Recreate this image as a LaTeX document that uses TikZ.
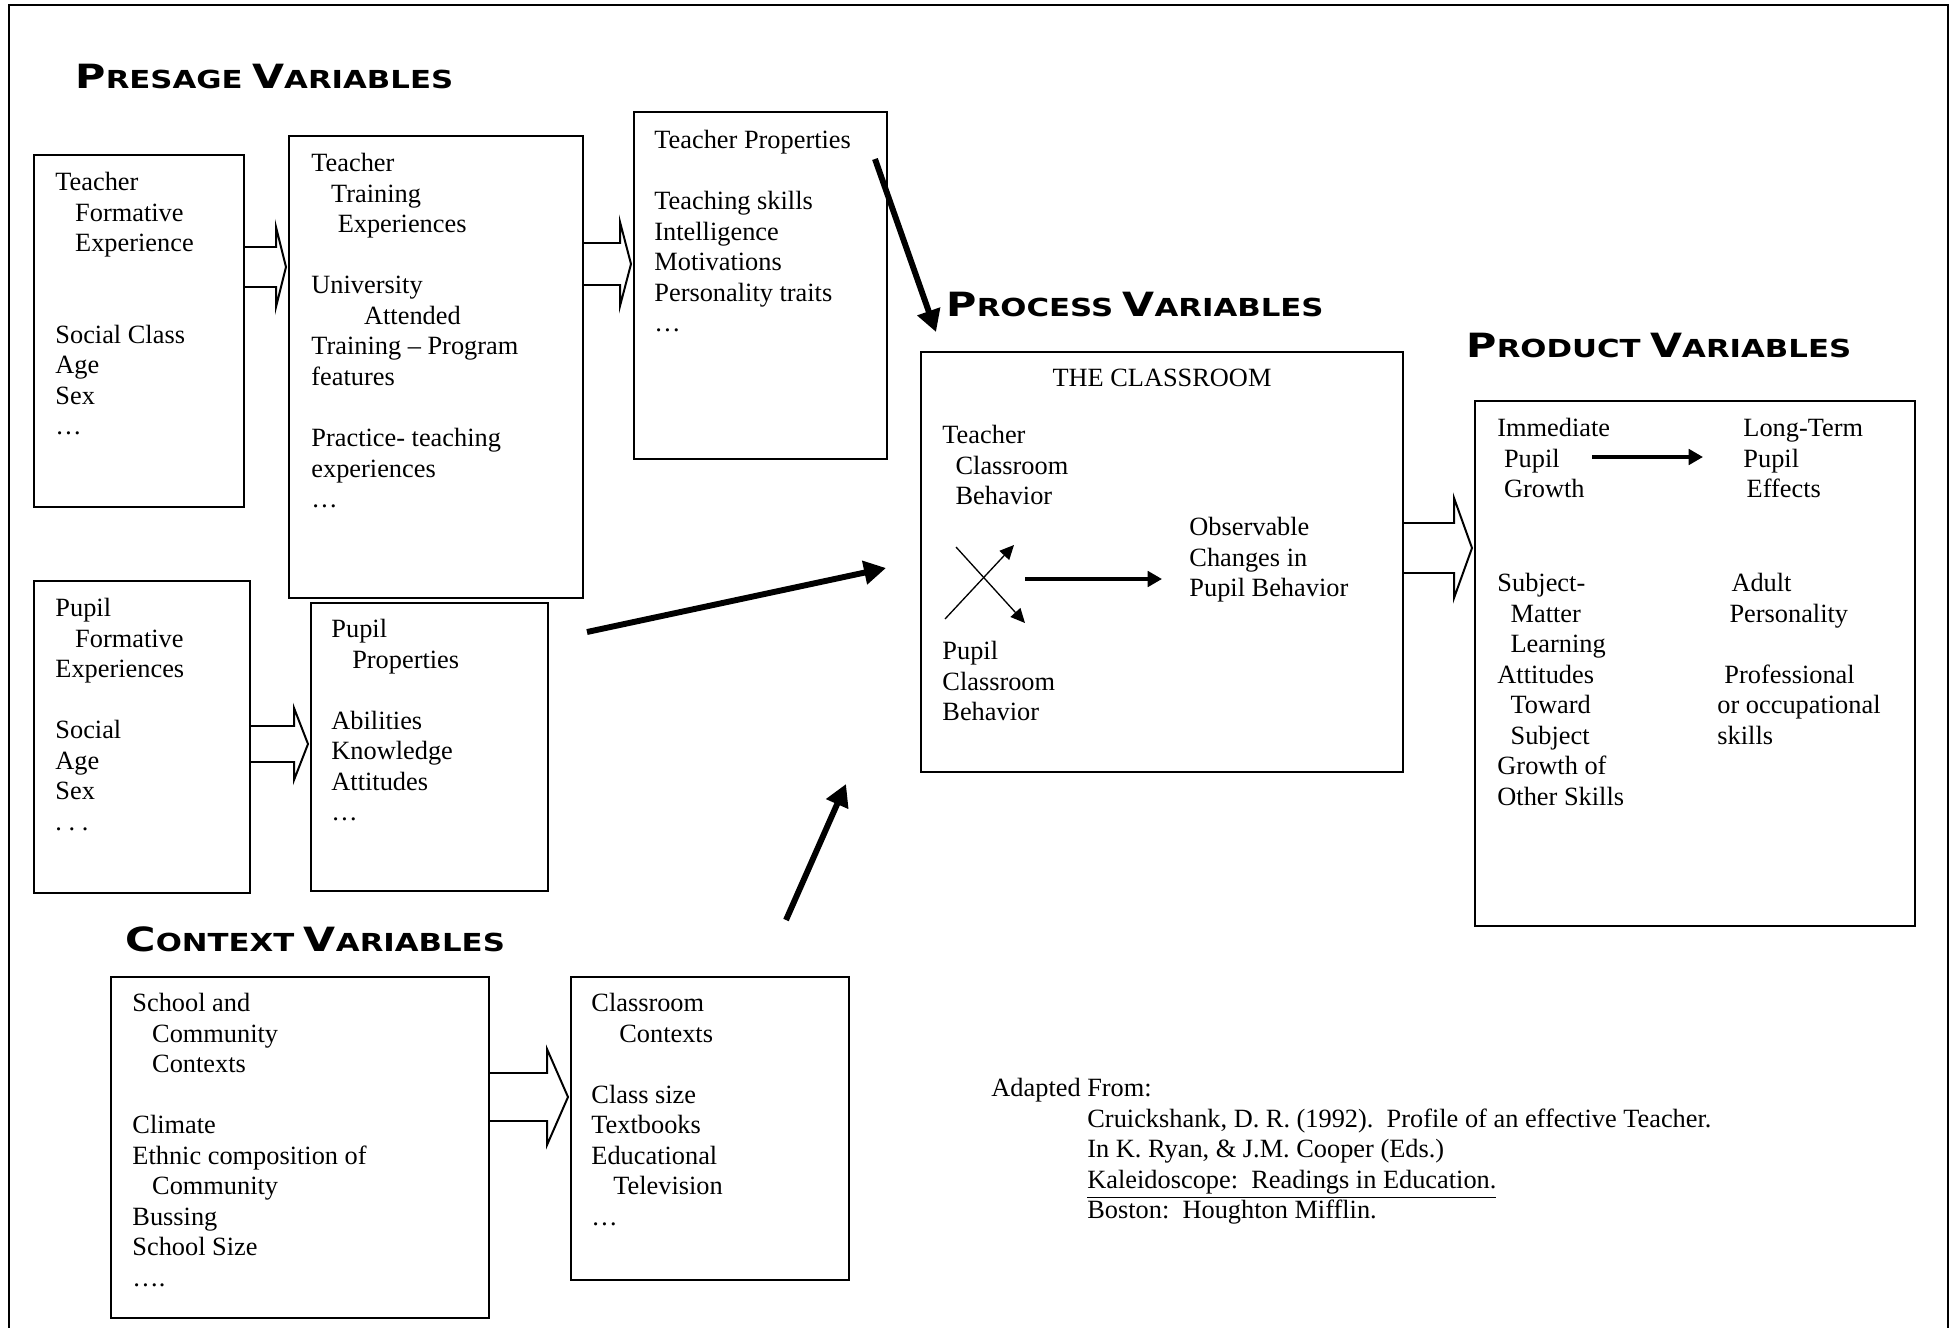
\documentclass[tikz,border=0pt]{standalone}
\usepackage{graphicx}
\usepackage{fontspec}
\setmainfont{Liberation Serif}
\newfontfamily\headfont{DejaVu Sans}
\usetikzlibrary{arrows.meta,calc,fit}

\newcommand{\capword}[2]{{\fontsize{15.2}{16}\selectfont #1}{\fontsize{11.3}{12}\selectfont #2}}
\newcommand{\vartitle}[2]{\scalebox{1.24}[1]{\headfont\bfseries\capword{#1}{#2}\ \capword{V}{ARIABLES}}}
\newcommand{\openarrow}[5]{%
  \coordinate (tip) at ($(#2.west |- 0,#3)+(-2,0)$);
  \draw[hollow] (#1.east |- 0,#3-#4) -| ($(tip)+(-#5,-2*#4)$) -- (tip)
    -- ($(tip)+(-#5,2*#4)$) |- (#1.east |- 0,#3+#4);
}

\tikzset{
  box/.style={draw, line width=0.9pt, inner sep=0pt},
  txt/.style={anchor=north west, inner sep=0pt, align=left, font=\fontsize{12}{13.9}\selectfont},
  title/.style={anchor=base west, inner sep=0pt},
  hollow/.style={draw, line width=0.9pt, line join=miter},
  bigarrow/.style={line width=2.7pt, -{Triangle[length=10pt,width=10.5pt]}},
  thinarrow/.style={line width=0.6pt, -{Triangle[length=6.5pt,width=6pt]}},
  midarrow/.style={line width=1.6pt, -{Triangle[length=6.5pt,width=7pt]}}
}

\begin{document}
\begin{tikzpicture}[x=0.016cm, y=-0.016cm]
\useasboundingbox (0,0) rectangle (1952,1328);
\draw[line width=0.9pt] (9,1328) -- (9,5) -- (1948,5) -- (1948,1328);

\node[title] (presage) at (75,88) {\vartitle{P}{RESAGE}};
\node[title] (process) at (946,316) {\vartitle{P}{ROCESS}};
\node[title] (product) at (1466,357) {\vartitle{P}{RODUCT}};
\node[title] (context) at (125,951) {\vartitle{C}{ONTEXT}};

\node[box, fit={(34,155) (244,507)}] (tfe) {};
\node[box, fit={(289,136) (583,598)}] (tte) {};
\node[box, fit={(634,112) (887,459)}] (tp) {};
\node[box, fit={(34,581) (250,893)}] (pfe) {};
\node[box, fit={(311,603) (548,891)}] (pp) {};
\node[box, fit={(921,352) (1403,772)}] (proc) {};
\node[box, fit={(1475,401) (1915,926)}] (prod) {};
\node[box, fit={(111,977) (489,1318)}] (scc) {};
\node[box, fit={(571,977) (849,1280)}] (cc) {};

\node[txt] (tfetext) at (55,169) {\strut Teacher\\ \hspace*{9pt}Formative\\ \hspace*{9pt}Experience\\[27.8pt]Social Class\\ Age\\ Sex\\ …};
\node[txt] (ttetext) at (311,150) {\strut Teacher\\ \hspace*{9pt}Training\\ \hspace*{12pt}Experiences\\[13.9pt]University\\ \hspace*{24pt}Attended\\ Training – Program\\ features\\[13.9pt]Practice- teaching\\ experiences\\ …};
\node[txt] (tptext) at (654,127) {\strut Teacher Properties\\[13.9pt]Teaching skills\\ Intelligence\\ Motivations\\ Personality traits\\ …};
\node[txt] (pfetext) at (55,595) {\strut Pupil\\ \hspace*{9pt}Formative\\ Experiences\\[13.9pt]Social\\ Age\\ Sex\\ .\ .\ .};
\node[txt] (pptext) at (331,616) {\strut Pupil\\ \hspace*{9.5pt}Properties\\[13.9pt]Abilities\\ Knowledge\\ Attitudes\\ …};
\node[txt] (scctext) at (132,990) {\strut School and\\ \hspace*{9pt}Community\\ \hspace*{9pt}Contexts\\[13.9pt]Climate\\ Ethnic composition of\\ \hspace*{9pt}Community\\ Bussing\\ School Size\\ ….};
\node[txt] (cctext) at (591,990) {\strut Classroom\\ \hspace*{12.7pt}Contexts\\[13.9pt]Class size\\ Textbooks\\ Educational\\ \hspace*{10pt}Television\\ …};

\node[inner sep=0pt, font=\fontsize{12}{13.9}\selectfont] (classtitle) at ($(proc.north)+(0,27)$) {THE CLASSROOM};
\node[txt] (tcb) at (942,422) {\strut Teacher\\ \hspace*{6pt}Classroom\\ \hspace*{6pt}Behavior};
\node[txt] (obs) at (1189,514) {\strut Observable\\ Changes in\\ Pupil Behavior};
\node[txt] (pcb) at (942,638) {\strut Pupil\\ Classroom\\ Behavior};
\draw[thinarrow] (956,547) -- (1025,623);
\draw[thinarrow] (945,619) -- (1014,545);
\draw[midarrow] (1025,579) -- ($(obs.west |- 0,579)+(-27,0)$);

\node[txt] (imm) at (1497,415) {\strut Immediate\\ \hspace*{3pt}Pupil\\ \hspace*{3pt}Growth};
\node[txt] (ltm) at (1743,415) {\strut Long-Term\\ Pupil\\ \hspace*{1.5pt}Effects};
\node[txt] (subj) at (1497,570) {\strut Subject-\\ \hspace*{6pt}Matter\\ \hspace*{6pt}Learning\\ Attitudes\\ \hspace*{6pt}Toward\\ \hspace*{6pt}Subject\\ Growth of\\ Other Skills};
\node[txt] (adult) at (1717,570) {\strut\hspace*{6.4pt}Adult\\ \hspace*{5.5pt}Personality\\[13.9pt]\hspace*{3.2pt}Professional\\ or occupational\\ skills};
\draw[midarrow] (1592,457) -- ($(ltm.west |- 0,457)+(-40,0)$);

\node[txt] (source) at (991,1075) {\strut Adapted From:\\
  \hspace*{43.7pt}Cruickshank, D. R. (1992).\ \ Profile of an effective Teacher.\\
  \hspace*{43.7pt}In K. Ryan, \& J.M. Cooper (Eds.)\\
  \hspace*{43.7pt}\underline{Kaleidoscope:\ \ Readings in Education.}\\
  \hspace*{43.7pt}Boston:\ \ Houghton Mifflin.};

\openarrow{tfe}{tte}{267}{20}{10}
\openarrow{tte}{tp}{264}{21}{11}
\openarrow{pfe}{pp}{744}{18}{14}
\openarrow{proc}{prod}{548}{25}{18}
\openarrow{scc}{cc}{1097}{24}{21}

\coordinate (tpout) at ($(tp.north east)+(-13,48)$);
\coordinate (procin) at ($(proc.north west)+(16,-19)$);
\draw[bigarrow] (tpout) -- (procin);
\coordinate (ppout) at ($(pp.north east)+(38,30)$);
\coordinate (procleft) at ($(proc.west)+(-34,6)$);
\draw[bigarrow] (ppout) -- (procleft);
\coordinate (ccout) at ($(cc.north)+(76,-56)$);
\coordinate (procbelow) at ($(proc.south west)+(-74,11)$);
\draw[bigarrow] (ccout) -- (procbelow);
\end{tikzpicture}
\end{document}
